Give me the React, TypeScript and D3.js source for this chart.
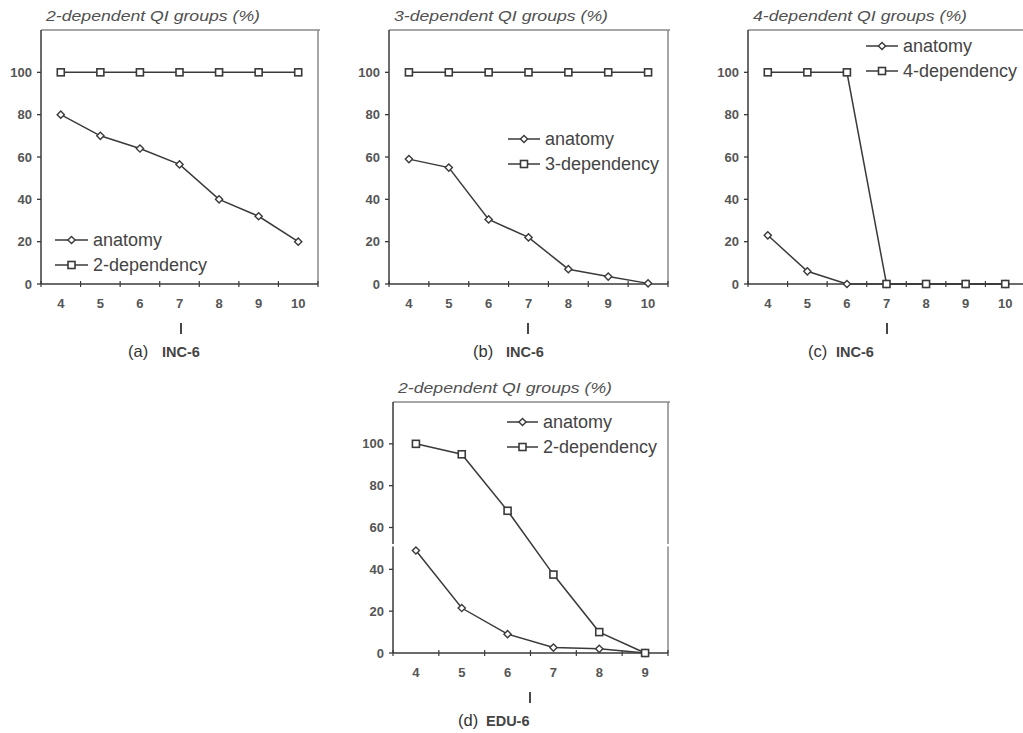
import React from "react";
import * as d3 from "d3";

// ---------- data ----------
const catsINC = [4, 5, 6, 7, 8, 9, 10];
const catsEDU = [4, 5, 6, 7, 8, 9];
const yTicks = [0, 20, 40, 60, 80, 100];

const anatomyA = [80, 70, 64, 56.5, 40, 32, 20];
const dep2A = [100, 100, 100, 100, 100, 100, 100];

const anatomyB = [59, 55, 30.5, 22, 7, 3.5, 0.3];
const dep3B = [100, 100, 100, 100, 100, 100, 100];

const anatomyC = [23, 6, 0, 0, 0, 0, 0];
const dep4C = [100, 100, 100, 0, 0, 0, 0];

const anatomyD = [49, 21.5, 9, 2.6, 2, 0];
const dep2D = [100, 95, 68, 37.5, 10, 0];

const titles = [
  "2-dependent QI groups (%)",
  "3-dependent QI groups (%)",
  "4-dependent QI groups (%)",
  "2-dependent QI groups (%)",
];
const depNames = ["2-dependency", "3-dependency", "4-dependency", "2-dependency"];
const captions = [
  ["(a)", "INC-6"],
  ["(b)", "INC-6"],
  ["(c)", "INC-6"],
  ["(d)", "EDU-6"],
];

// ---------- layout ----------
const panels = [
  {
    cats: catsINC, anatomy: anatomyA, dep: dep2A, title: titles[0], depName: depNames[0], cap: captions[0],
    left: 41, right: 318, top: 30, bottom: 284, rightBorder: true,
    legX: 55, legY: 240, legLine: 33, capL: 181, capA: 128, capB: 162,
  },
  {
    cats: catsINC, anatomy: anatomyB, dep: dep3B, title: titles[1], depName: depNames[1], cap: captions[1],
    left: 389, right: 668, top: 30, bottom: 284, rightBorder: true,
    legX: 508, legY: 139, legLine: 32, capL: 528, capA: 473, capB: 506,
  },
  {
    cats: catsINC, anatomy: anatomyC, dep: dep4C, title: titles[2], depName: depNames[2], cap: captions[2],
    left: 748, right: 1025, top: 30, bottom: 284, rightBorder: false,
    legX: 866, legY: 46, legLine: 32, capL: 887, capA: 808, capB: 836,
  },
  {
    cats: catsEDU, anatomy: anatomyD, dep: dep2D, title: titles[3], depName: depNames[3], cap: captions[3],
    left: 393, right: 668, top: 402, bottom: 653, rightBorder: true,
    legX: 507, legY: 422, legLine: 31, capL: 530, capA: 458, capB: 486,
  },
];

const INK = "#3a3a3a";
const FRAME = "#8a8a8a";
const FONT = "Liberation Sans, Arial, sans-serif";

function Diamond({ x, y }: { x: number; y: number }) {
  const r = 3.6;
  return (
    <path
      d={`M${x},${y - r}L${x + r},${y}L${x},${y + r}L${x - r},${y}Z`}
      fill="#fff"
      stroke={INK}
      strokeWidth={1.4}
    />
  );
}

function Square({ x, y }: { x: number; y: number }) {
  const s = 7;
  return (
    <rect x={x - s / 2} y={y - s / 2} width={s} height={s} fill="#fff" stroke={INK} strokeWidth={1.6} />
  );
}

function Panel({ p }: { p: (typeof panels)[number] }) {
  const x = d3.scaleBand<number>().domain(p.cats).range([p.left, p.right]).padding(0);
  const bw = x.bandwidth();
  const cx = (c: number) => (x(c) as number) + bw / 2;
  const y = d3.scaleLinear().domain([0, 120]).range([p.bottom, p.top]);
  const line = d3
    .line<[number, number]>()
    .x((d) => cx(d[0]))
    .y((d) => y(d[1]));
  const anaPts: [number, number][] = p.cats.map((c, i) => [c, p.anatomy[i]]);
  const depPts: [number, number][] = p.cats.map((c, i) => [c, p.dep[i]]);
  const boundaries = p.cats.map((c) => x(c) as number).concat([p.right]);

  return (
    <g>
      {/* title */}
      <text
        x={p.left + 5}
        y={p.top - 9}
        fontFamily={FONT}
        fontStyle="italic"
        fontSize={14}
        fill="#505050"
        textLength={214}
        lengthAdjust="spacingAndGlyphs"
      >
        {p.title}
      </text>
      {/* frame */}
      <line x1={p.left} x2={p.right + 2} y1={p.top} y2={p.top} stroke={FRAME} strokeWidth={1.5} />
      {p.rightBorder && (
        <line x1={p.right} x2={p.right} y1={p.top} y2={p.bottom} stroke={FRAME} strokeWidth={1.5} />
      )}
      <line x1={p.left} x2={p.left} y1={p.top} y2={p.bottom} stroke={INK} strokeWidth={1.5} />
      <line x1={p.left} x2={p.right} y1={y(0)} y2={y(0)} stroke={INK} strokeWidth={1.5} />
      {/* y ticks */}
      {yTicks.map((t) => (
        <g key={t}>
          <line x1={p.left - 4} x2={p.left} y1={y(t)} y2={y(t)} stroke={INK} strokeWidth={1.3} />
          <text
            x={p.left - 9}
            y={y(t) + 4.6}
            textAnchor="end"
            fontFamily={FONT}
            fontSize={13}
            fontWeight="bold"
            fill="#555"
          >
            {t}
          </text>
        </g>
      ))}
      {/* x ticks */}
      {boundaries.map((b, i) => (
        <line key={i} x1={b} x2={b} y1={y(0) - 3} y2={y(0) + 3} stroke={INK} strokeWidth={1.2} />
      ))}
      {p.cats.map((c) => (
        <text
          key={c}
          x={cx(c)}
          y={p.bottom + 24}
          textAnchor="middle"
          fontFamily={FONT}
          fontSize={13}
          fontWeight="bold"
          fill="#555"
        >
          {c}
        </text>
      ))}
      {/* series */}
      <path d={line(anaPts) || ""} fill="none" stroke={INK} strokeWidth={1.5} />
      {anaPts.map((d, i) => (
        <Diamond key={i} x={cx(d[0])} y={y(d[1])} />
      ))}
      <path d={line(depPts) || ""} fill="none" stroke={INK} strokeWidth={1.5} />
      {depPts.map((d, i) => (
        <Square key={i} x={cx(d[0])} y={y(d[1])} />
      ))}
      {/* legend */}
      <line x1={p.legX} x2={p.legX + p.legLine} y1={p.legY} y2={p.legY} stroke={INK} strokeWidth={1.5} />
      <Diamond x={p.legX + p.legLine / 2} y={p.legY} />
      <text x={p.legX + p.legLine + 5} y={p.legY + 6} fontFamily={FONT} fontSize={18} fill="#444">
        anatomy
      </text>
      <line
        x1={p.legX}
        x2={p.legX + p.legLine}
        y1={p.legY + 25}
        y2={p.legY + 25}
        stroke={INK}
        strokeWidth={1.5}
      />
      <Square x={p.legX + p.legLine / 2} y={p.legY + 25} />
      <text x={p.legX + p.legLine + 5} y={p.legY + 31} fontFamily={FONT} fontSize={18} fill="#444">
        {p.depName}
      </text>
      {/* caption */}
      <rect x={p.capL - 0.9} y={p.bottom + 39} width={1.8} height={11} fill="#333" />
      <text x={p.capA} y={p.bottom + 73} fontFamily={FONT} fontSize={16.5} fill="#333">
        {p.cap[0]}
      </text>
      <text x={p.capB} y={p.bottom + 73} fontFamily={FONT} fontSize={14.5} fontWeight="bold" fill="#444">
        {p.cap[1]}
      </text>
    </g>
  );
}

export default function App() {
  return (
    <svg
      width={1023}
      height={733}
      style={{ position: "absolute", left: 0, top: 0, background: "#fff", overflow: "hidden" }}
    >
      <rect x={0} y={0} width={1023} height={733} fill="#fff" />
      {panels.map((p, i) => (
        <Panel key={i} p={p} />
      ))}
      {/* scan seam in panel (d): breaks in the frame lines */}
      <rect x={390} y={544} width={6} height={2.5} fill="#fff" />
      <rect x={665} y={544} width={6} height={2.5} fill="#fff" />
    </svg>
  );
}
